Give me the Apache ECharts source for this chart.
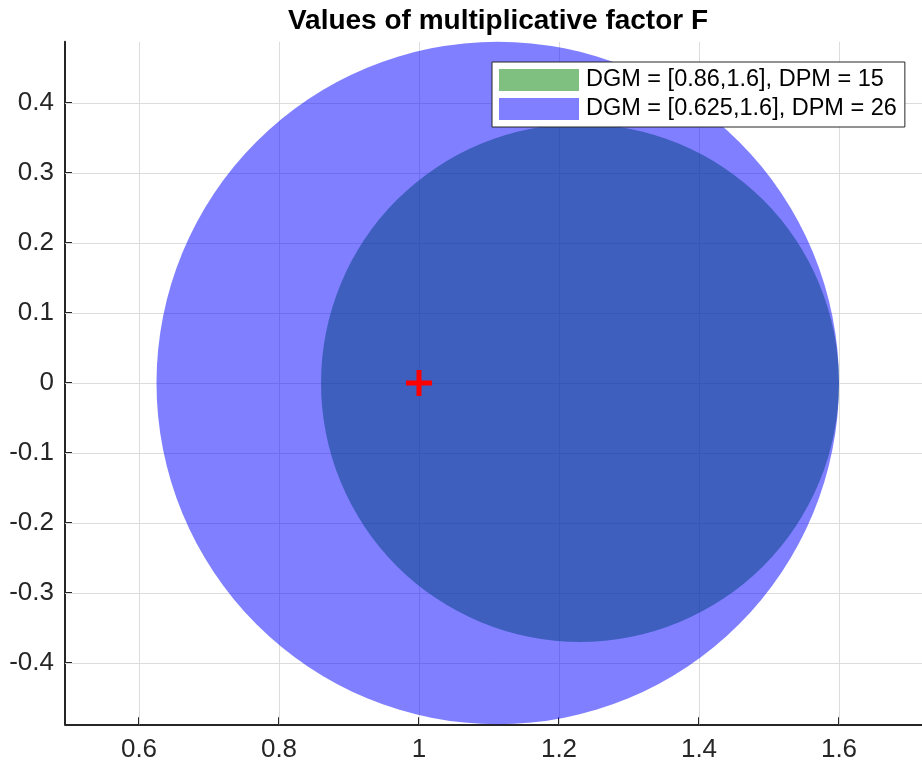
<!DOCTYPE html>
<html>
<head>
<meta charset="utf-8">
<script src="https://cdn.jsdelivr.net/npm/echarts@6/dist/echarts.min.js"></script>
<style>html,body{margin:0;padding:0;background:#fff}#chart{width:922px;height:765px}</style>
</head>
<body>
<div id="chart"></div>
<script>
// ---- data ----
const legendNames = ['DGM = [0.86,1.6], DPM = 15', 'DGM = [0.625,1.6], DPM = 26'];
const gainLow = [0.86, 0.625];
const gainHigh = [1.6, 1.6];
const diskColors = ['rgba(0,128,0,0.5)', 'rgba(0,0,255,0.5)'];
const nominalPoint = [[1, 0]];
const xTicks = [0.6, 0.8, 1, 1.2, 1.4, 1.6];
const yTicks = [-0.4, -0.3, -0.2, -0.1, 0, 0.1, 0.2, 0.3, 0.4];
const xRange = [0.49429, 1.71857];
const yRange = [-0.4875, 0.4875];

const FONT = 'Liberation Sans, Arial, sans-serif';
const AX = '#262626';
const GRID = '#dcdcdc';

const chart = echarts.init(document.getElementById('chart'), null, {renderer: 'canvas'});

function diskSeries(i) {
  return {
    type: 'custom',
    name: legendNames[i],
    coordinateSystem: 'cartesian2d',
    z: 2,
    silent: true,
    itemStyle: {color: diskColors[i]},
    encode: {x: [0, 1]},
    data: [[gainLow[i], gainHigh[i]]],
    renderItem: function (params, api) {
      const lo = api.value(0), hi = api.value(1);
      const c = api.coord([(lo + hi) / 2, 0]);
      const r = api.size([(hi - lo) / 2, 0])[0];
      return {type: 'circle', shape: {cx: c[0], cy: c[1], r: r}, style: {fill: diskColors[i]}};
    }
  };
}

const gridLines = xTicks.map(v => ({xAxis: v})).concat(yTicks.map(v => ({yAxis: v})));

const option = {
  backgroundColor: '#fff',
  animation: false,
  title: {
    text: 'Values of multiplicative factor F',
    left: 493, top: 2, textAlign: 'center',
    textStyle: {fontFamily: FONT, fontSize: 28, fontWeight: 'bold', color: '#000'}
  },
  grid: {left: 65, right: 0, top: 41.75, bottom: 40.75, containLabel: false},
  xAxis: {
    type: 'value', min: xRange[0], max: xRange[1],
    axisLine: {show: true, onZero: false, lineStyle: {color: AX, width: 2}},
    axisTick: {show: true, inside: true, length: 7, customValues: xTicks, lineStyle: {color: AX, width: 2}},
    axisLabel: {customValues: xTicks, margin: 13, fontFamily: FONT, fontSize: 26, color: AX},
    splitLine: {show: false}
  },
  yAxis: {
    type: 'value', min: yRange[0], max: yRange[1],
    axisLine: {show: true, onZero: false, lineStyle: {color: AX, width: 2}},
    axisTick: {show: true, inside: true, length: 7, customValues: yTicks, lineStyle: {color: AX, width: 2}},
    axisLabel: {customValues: yTicks, margin: 11, fontFamily: FONT, fontSize: 26, color: AX,
      formatter: v => (Math.abs(v) < 1e-9 ? '0' : String(Math.round(v * 10) / 10))},
    splitLine: {show: false}
  },
  legend: {
    data: legendNames,
    orient: 'vertical',
    left: 492, top: 62, z: 20,
    itemWidth: 80, itemHeight: 22, itemGap: 5,
    padding: [6, 8, 6, 7],
    backgroundColor: '#fff',
    borderColor: AX, borderWidth: 1,
    icon: 'rect',
    selectedMode: false,
    textStyle: {fontFamily: FONT, fontSize: 23.5, color: '#000', padding: [0, 0, 0, 2]}
  },
  series: [
    {
      type: 'line', data: [], z: 1, silent: true,
      markLine: {
        z: 1, silent: true, symbol: 'none', label: {show: false},
        lineStyle: {color: GRID, width: 1, type: 'solid'},
        data: gridLines, animation: false
      }
    },
    diskSeries(0),
    diskSeries(1),
    {
      type: 'scatter', z: 10, silent: true,
      data: nominalPoint,
      symbol: 'path://M10.5,0h5v10.5h10.5v5h-10.5v10.5h-5v-10.5h-10.5v-5h10.5z',
      symbolSize: 26,
      itemStyle: {color: '#ff0000', opacity: 1}
    }
  ]
};
chart.setOption(option);
</script>
</body>
</html>
